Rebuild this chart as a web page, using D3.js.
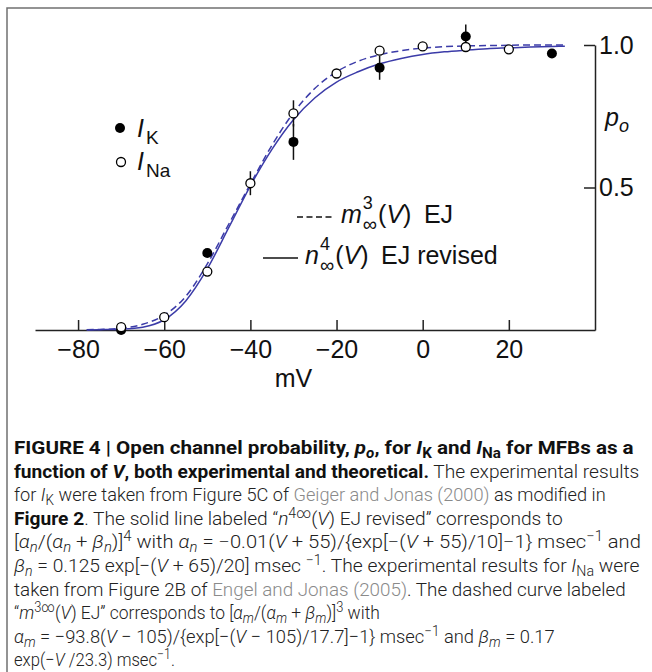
<!DOCTYPE html>
<html lang="en">
<head>
<meta charset="UTF-8">
<script src="https://d3js.org/d3.v7.min.js"></script>
<style>
  body { margin: 0; background: #fff; }
  svg { display: block; }
  .axis text { font-family: "Liberation Sans", Arial, sans-serif; font-size: 25px; fill: #111; }
  .axis path, .axis line { stroke: #222; stroke-width: 1.5; }
  .lbl { font-family: "Liberation Sans", Arial, sans-serif; fill: #111; }
  .cap { font-family: Roboto, "Liberation Sans", sans-serif; font-size: 19px; fill: #222; font-weight: 300; }
</style>
</head>
<body>
<div id="chart"></div>
<script>
// ---- data ----
// I_K (filled circles)
const kVoltage = [-70, -50, -30, -10, 10, 30];
const kPo      = [0.0, 0.27, 0.66, 0.92, 1.03, 0.97];
const kErr     = [0, 0, 0.063, 0.042, 0.042, 0];
// I_Na (open circles)
const naVoltage = [-70, -60, -50, -40, -30, -20, -10, 0, 10, 20];
const naPo      = [0.01, 0.045, 0.205, 0.515, 0.76, 0.90, 0.98, 0.995, 0.993, 0.985];
const naErr     = [0, 0, 0, 0.042, 0.046, 0, 0, 0, 0, 0];
// theoretical curves
const curveV = [-78, -75, -70, -65, -60, -55, -50, -45, -40, -35, -30, -25, -20, -15, -10, -5, 0, 5, 10, 15, 20, 25, 30, 33];
const nInf4  = [0.000, 0.001, 0.003, 0.010, 0.036, 0.102, 0.215, 0.360, 0.506, 0.634, 0.738, 0.815, 0.870, 0.906, 0.934, 0.953, 0.967, 0.976, 0.982, 0.987, 0.990, 0.993, 0.995, 0.996];
const mInf3  = [0.001, 0.002, 0.006, 0.020, 0.052, 0.118, 0.232, 0.372, 0.512, 0.648, 0.762, 0.848, 0.906, 0.943, 0.966, 0.980, 0.989, 0.994, 0.997, 0.998, 0.999, 1.0, 1.0, 1.0];
// axes
const xTicks = [-80, -60, -40, -20, 0, 20];
const yTicks = [0.5, 1.0];

// caption: [text, style]  B bold, I italic, _ subscript, ^ superscript, L link
const captionLines = [
  [["FIGURE 4 | Open channel probability, ", "B"], ["p", "BI"], ["o", "BI_"], [", for ", "B"], ["I", "BI"], ["K", "B_"], [" and ", "B"], ["I", "BI"], ["Na", "B_"], [" for MFBs as a", "B"]],
  [["function of ", "B"], ["V", "BI"], [", both experimental and theoretical.", "B"], [" The experimental results", ""]],
  [["for ", ""], ["I", "I"], ["K", "_"], [" were taken from Figure 5C of ", ""], ["Geiger and Jonas (2000)", "L"], [" as modified in", ""]],
  [["Figure 2", "B"], [". The solid line labeled \u201c", ""], ["n", "I"], ["4\u221e", "^"], ["(", ""], ["V", "I"], [") EJ revised\u201d corresponds to", ""]],
  [["[", ""], ["\u03b1", "I"], ["n", "I_"], ["/(", ""], ["\u03b1", "I"], ["n", "I_"], [" + ", ""], ["\u03b2", "I"], ["n", "I_"], [")]", ""], ["4", "^"], [" with ", ""], ["\u03b1", "I"], ["n", "I_"], [" = \u22120.01(", ""], ["V", "I"], [" + 55)/{exp[\u2212(", ""], ["V", "I"], [" + 55)/10]\u22121} msec", ""], ["\u22121", "^"], [" and", ""]],
  [["\u03b2", "I"], ["n", "I_"], [" = 0.125 exp[\u2212(", ""], ["V", "I"], [" + 65)/20] msec ", ""], ["\u22121", "^"], [". The experimental results for ", ""], ["I", "I"], ["Na", "_"], [" were", ""]],
  [["taken from Figure 2B of ", ""], ["Engel and Jonas (2005)", "L"], [". The dashed curve labeled", ""]],
  [["\u201c", ""], ["m", "I"], ["3\u221e", "^"], ["(", ""], ["V", "I"], [") EJ\u201d corresponds to [", ""], ["\u03b1", "I"], ["m", "I_"], ["/(", ""], ["\u03b1", "I"], ["m", "I_"], [" + ", ""], ["\u03b2", "I"], ["m", "I_"], [")]", ""], ["3", "^"], [" with", ""]],
  [["\u03b1", "I"], ["m", "I_"], [" = \u221293.8(", ""], ["V", "I"], [" \u2212 105)/{exp[\u2212(", ""], ["V", "I"], [" \u2212 105)/17.7]\u22121} msec", ""], ["\u22121", "^"], [" and ", ""], ["\u03b2", "I"], ["m", "I_"], [" = 0.17", ""]],
  [["exp(\u2212", ""], ["V", "I"], [" /23.3) msec", ""], ["\u22121", "^"], [".", ""]]
];
// right edge of each caption line
const captionRight = [634, 640, 606, 563, 641, 640, 626, 380, 555, 175];

// ---- layout ----
const width = 652, height = 672;
const svg = d3.select("#chart").append("svg")
  .attr("width", width).attr("height", height)
  .attr("viewBox", `0 0 ${width} ${height}`);

svg.append("rect").attr("width", width).attr("height", height).attr("fill", "#fff");

// frame
svg.append("path")
  .attr("d", `M7,${height}V8H${width}`)
  .attr("fill", "none").attr("stroke", "#707070").attr("stroke-width", 1.5);

const x = d3.scaleLinear().domain([-90, 40]).range([35, 595]);
const y = d3.scaleLinear().domain([0, 1]).range([330, 45]);

// axes
svg.append("g").attr("class", "axis")
  .attr("transform", "translate(0,330)")
  .call(d3.axisBottom(x).tickValues(xTicks).tickSizeInner(-10).tickSizeOuter(0).tickPadding(10)
    .tickFormat(d => d < 0 ? "\u2212" + Math.abs(d) : d));

svg.append("g").attr("class", "axis")
  .attr("transform", "translate(595,0)")
  .call(d3.axisRight(y).tickValues(yTicks).tickSizeInner(-11).tickSizeOuter(0).tickPadding(4)
    .tickFormat(d3.format(".1f")));

// axis titles
svg.append("text").attr("class", "lbl")
  .attr("x", x(-30)).attr("y", 387).attr("text-anchor", "middle")
  .style("font-size", "25px").text("mV");

const po = svg.append("text").attr("class", "lbl").attr("x", 605).attr("y", 126).style("font-size", "25px");
po.append("tspan").style("font-style", "italic").text("p");
po.append("tspan").style("font-style", "italic").style("font-size", "18px").attr("dy", 6).text("o");

// curves
const line = d3.line().x(d => x(d[0])).y(d => y(d[1])).curve(d3.curveMonotoneX);
svg.append("path")
  .attr("d", line(curveV.map((v, i) => [v, mInf3[i]])))
  .attr("fill", "none").attr("stroke", "#3b3ba8").attr("stroke-width", 1.5)
  .attr("stroke-dasharray", "7,4");
svg.append("path")
  .attr("d", line(curveV.map((v, i) => [v, nInf4[i]])))
  .attr("fill", "none").attr("stroke", "#3b3ba8").attr("stroke-width", 1.5);

// error bars
const kData = kVoltage.map((v, i) => ({ v, p: kPo[i], e: kErr[i] }));
const naData = naVoltage.map((v, i) => ({ v, p: naPo[i], e: naErr[i] }));
svg.append("g").selectAll("line")
  .data(kData.concat(naData).filter(d => d.e > 0))
  .join("line")
  .attr("x1", d => x(d.v)).attr("x2", d => x(d.v))
  .attr("y1", d => y(d.p - d.e)).attr("y2", d => y(d.p + d.e))
  .attr("stroke", "#111").attr("stroke-width", 1.5);

// points
svg.append("g").selectAll("circle")
  .data(kData).join("circle")
  .attr("cx", d => x(d.v)).attr("cy", d => y(d.p)).attr("r", 5)
  .attr("fill", "#000");
svg.append("g").selectAll("circle")
  .data(naData).join("circle")
  .attr("cx", d => x(d.v)).attr("cy", d => y(d.p)).attr("r", 4.5)
  .attr("fill", "#fff").attr("stroke", "#000").attr("stroke-width", 1.3);

// symbol legend
svg.append("circle").attr("cx", 120).attr("cy", 128).attr("r", 5).attr("fill", "#000");
svg.append("circle").attr("cx", 121).attr("cy", 162).attr("r", 4.5)
  .attr("fill", "#fff").attr("stroke", "#000").attr("stroke-width", 1.3);
[["K", 137], ["Na", 170]].forEach(([sub, by]) => {
  const t = svg.append("text").attr("class", "lbl").attr("x", 137).attr("y", by).style("font-size", "25px");
  t.append("tspan").style("font-style", "italic").text("I");
  t.append("tspan").style("font-size", "19px").attr("dx", 2).attr("dy", 7).text(sub);
});

// curve legend
function curveLabel(xs, by, letter, pow, rest) {
  const m = svg.append("text").attr("class", "lbl").attr("x", xs).attr("y", by)
    .style("font-size", "25px").style("font-style", "italic").text(letter);
  const x2 = xs + m.node().getComputedTextLength() + 1;
  svg.append("text").attr("class", "lbl").attr("x", x2).attr("y", by - 14)
    .style("font-size", "18px").text(pow);
  const inf = svg.append("text").attr("class", "lbl").attr("x", x2).attr("y", by + 8)
    .style("font-size", "20px").text("\u221e");
  const x3 = x2 + inf.node().getComputedTextLength() + 1;
  const r = svg.append("text").attr("class", "lbl").attr("x", x3).attr("y", by).style("font-size", "25px");
  r.append("tspan").text("(");
  r.append("tspan").style("font-style", "italic").text("V");
  r.append("tspan").text(rest);
}
svg.append("line").attr("x1", 297).attr("x2", 334).attr("y1", 217).attr("y2", 217)
  .attr("stroke", "#111").attr("stroke-width", 1.3).attr("stroke-dasharray", "6,3.5");
curveLabel(341, 223, "m", "3", ")\u2002EJ");
svg.append("line").attr("x1", 263).attr("x2", 298).attr("y1", 258).attr("y2", 258)
  .attr("stroke", "#111").attr("stroke-width", 1.3);
curveLabel(305, 264, "n", "4", ")\u2002EJ revised");

// caption
const capTop = 454, capStep = 23.6;
captionLines.forEach((segs, li) => {
  const g = svg.append("g").attr("transform", `translate(14,${capTop + li * capStep})`);
  const t = g.append("text").attr("class", "cap").attr("x", 0).attr("y", 0);
  let shift = 0;
  segs.forEach(([txt, st]) => {
    const ts = t.append("tspan").text(txt);
    if (st.includes("B")) ts.style("font-weight", 700).style("fill", "#111");
    if (st.includes("I")) ts.style("font-style", "italic");
    if (st.includes("L")) ts.style("fill", "#8a8a8a");
    let s = 0;
    if (st.includes("_")) { s = 4; ts.style("font-size", "14px"); }
    if (st.includes("^")) { s = -7; ts.style("font-size", "14px"); }
    if (s !== shift) { ts.attr("dy", s - shift); shift = s; }
  });
  const w = t.node().getBBox().width;
  const target = captionRight[li] - 14;
  g.attr("transform", `translate(14,${capTop + li * capStep}) scale(${target / w},1)`);
});
</script>
</body>
</html>
